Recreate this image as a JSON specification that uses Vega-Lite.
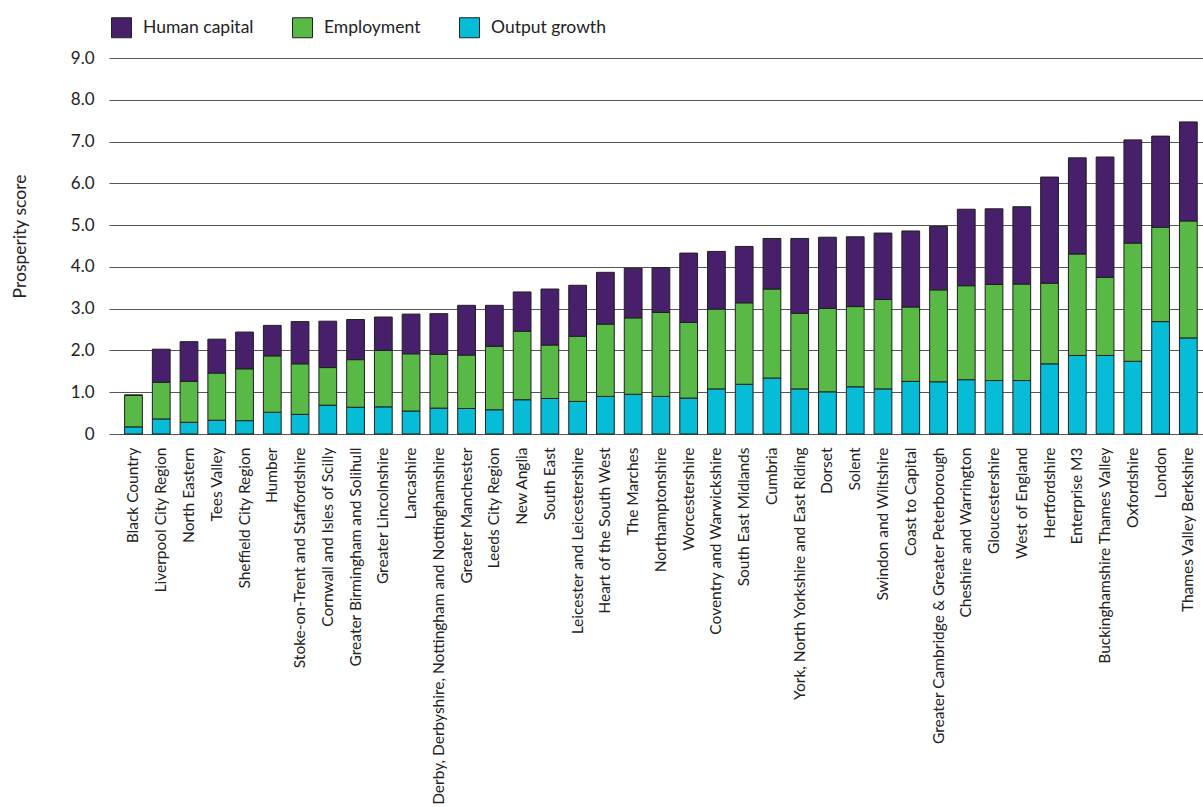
{
  "$schema": "https://vega.github.io/schema/vega-lite/v6.json",
  "width": 1094,
  "height": 376,
  "autosize": {"type": "none"},
  "padding": {"left": 109, "top": 58, "right": 0, "bottom": 373},
  "background": "white",
  "config": {"font": "Lato", "view": {"stroke": null}},
  "data": {"values": [
    {"region": "Black Country", "Output growth": 0.17, "Employment": 0.76, "Human capital": 0.0},
    {"region": "Liverpool City Region", "Output growth": 0.36, "Employment": 0.88, "Human capital": 0.79},
    {"region": "North Eastern", "Output growth": 0.28, "Employment": 0.98, "Human capital": 0.95},
    {"region": "Tees Valley", "Output growth": 0.33, "Employment": 1.13, "Human capital": 0.81},
    {"region": "Sheffield City Region", "Output growth": 0.32, "Employment": 1.24, "Human capital": 0.88},
    {"region": "Humber", "Output growth": 0.52, "Employment": 1.35, "Human capital": 0.73},
    {"region": "Stoke-on-Trent and Staffordshire", "Output growth": 0.47, "Employment": 1.21, "Human capital": 1.01},
    {"region": "Cornwall and Isles of Scilly", "Output growth": 0.69, "Employment": 0.9, "Human capital": 1.11},
    {"region": "Greater Birmingham and Solihull", "Output growth": 0.64, "Employment": 1.14, "Human capital": 0.96},
    {"region": "Greater Lincolnshire", "Output growth": 0.65, "Employment": 1.35, "Human capital": 0.8},
    {"region": "Lancashire", "Output growth": 0.55, "Employment": 1.37, "Human capital": 0.95},
    {"region": "Derby, Derbyshire, Nottingham and Nottinghamshire", "Output growth": 0.62, "Employment": 1.29, "Human capital": 0.97},
    {"region": "Greater Manchester", "Output growth": 0.61, "Employment": 1.28, "Human capital": 1.19},
    {"region": "Leeds City Region", "Output growth": 0.58, "Employment": 1.52, "Human capital": 0.98},
    {"region": "New Anglia", "Output growth": 0.82, "Employment": 1.64, "Human capital": 0.94},
    {"region": "South East", "Output growth": 0.85, "Employment": 1.28, "Human capital": 1.34},
    {"region": "Leicester and Leicestershire", "Output growth": 0.78, "Employment": 1.56, "Human capital": 1.22},
    {"region": "Heart of the South West", "Output growth": 0.9, "Employment": 1.73, "Human capital": 1.24},
    {"region": "The Marches", "Output growth": 0.95, "Employment": 1.83, "Human capital": 1.19},
    {"region": "Northamptonshire", "Output growth": 0.9, "Employment": 2.01, "Human capital": 1.07},
    {"region": "Worcestershire", "Output growth": 0.86, "Employment": 1.81, "Human capital": 1.66},
    {"region": "Coventry and Warwickshire", "Output growth": 1.08, "Employment": 1.91, "Human capital": 1.38},
    {"region": "South East Midlands", "Output growth": 1.19, "Employment": 1.95, "Human capital": 1.35},
    {"region": "Cumbria", "Output growth": 1.34, "Employment": 2.13, "Human capital": 1.21},
    {"region": "York, North Yorkshire and East Riding", "Output growth": 1.08, "Employment": 1.81, "Human capital": 1.79},
    {"region": "Dorset", "Output growth": 1.01, "Employment": 2.0, "Human capital": 1.7},
    {"region": "Solent", "Output growth": 1.13, "Employment": 1.92, "Human capital": 1.67},
    {"region": "Swindon and Wiltshire", "Output growth": 1.08, "Employment": 2.14, "Human capital": 1.59},
    {"region": "Coast to Capital", "Output growth": 1.26, "Employment": 1.78, "Human capital": 1.82},
    {"region": "Greater Cambridge & Greater Peterborough", "Output growth": 1.25, "Employment": 2.2, "Human capital": 1.52},
    {"region": "Cheshire and Warrington", "Output growth": 1.3, "Employment": 2.25, "Human capital": 1.83},
    {"region": "Gloucestershire", "Output growth": 1.28, "Employment": 2.3, "Human capital": 1.81},
    {"region": "West of England", "Output growth": 1.28, "Employment": 2.31, "Human capital": 1.85},
    {"region": "Hertfordshire", "Output growth": 1.68, "Employment": 1.93, "Human capital": 2.54},
    {"region": "Enterprise M3", "Output growth": 1.88, "Employment": 2.43, "Human capital": 2.3},
    {"region": "Buckinghamshire Thames Valley", "Output growth": 1.88, "Employment": 1.87, "Human capital": 2.88},
    {"region": "Oxfordshire", "Output growth": 1.74, "Employment": 2.83, "Human capital": 2.47},
    {"region": "London", "Output growth": 2.69, "Employment": 2.26, "Human capital": 2.18},
    {"region": "Thames Valley Berkshire", "Output growth": 2.3, "Employment": 2.8, "Human capital": 2.37}
  ]},
  "transform": [
    {"fold": ["Output growth", "Employment", "Human capital"], "as": ["component", "score"]},
    {"window": [{"op": "row_number", "as": "stackOrder"}], "groupby": ["region"]}
  ],
  "mark": {"type": "bar", "stroke": "#1f1f1f", "strokeWidth": 1},
  "encoding": {
    "x": {
      "field": "region", "type": "nominal", "sort": null,
      "scale": {"paddingInner": 0.36, "paddingOuter": 0.385, "align": 0.73},
      "axis": {"title": null, "labelAngle": -90, "labelAlign": "right", "labelBaseline": "middle", "labelFontSize": 15.5, "labelColor": "#222222", "ticks": false, "domain": false, "labelPadding": 13, "labelLimit": 600}
    },
    "y": {
      "field": "score", "type": "quantitative", "stack": "zero",
      "scale": {"domain": [0, 9], "nice": false},
      "axis": {
        "title": "Prosperity score",
        "values": [0, 1, 2, 3, 4, 5, 6, 7, 8, 9],
        "labelExpr": "datum.value == 0 ? '0' : format(datum.value, '.1f')",
        "grid": true, "gridColor": "#555555", "gridWidth": 1,
        "domain": false, "ticks": false,
        "labelPadding": 15, "labelFontSize": 17, "labelColor": "#222222",
        "titleFontSize": 17.5, "titleFontWeight": "normal", "titleColor": "#222222",
        "titleX": -89, "titleY": 178, "titleBaseline": "middle", "titleAlign": "center", "titleAngle": -90
      }
    },
    "color": {
      "field": "component", "type": "nominal",
      "scale": {"domain": ["Human capital", "Employment", "Output growth"], "range": ["#481f6b", "#58b947", "#07bcd6"]},
      "legend": {
        "title": null, "orient": "none", "direction": "horizontal",
        "legendX": 2, "legendY": -41, "padding": 0,
        "symbolType": "square", "symbolSize": 400, "symbolStrokeColor": "#222222", "symbolStrokeWidth": 1, "symbolOpacity": 1,
        "labelFontSize": 17.5, "labelColor": "#222222", "labelOffset": 11, "columnPadding": 36
      }
    },
    "order": {"field": "stackOrder", "type": "quantitative"}
  }
}
